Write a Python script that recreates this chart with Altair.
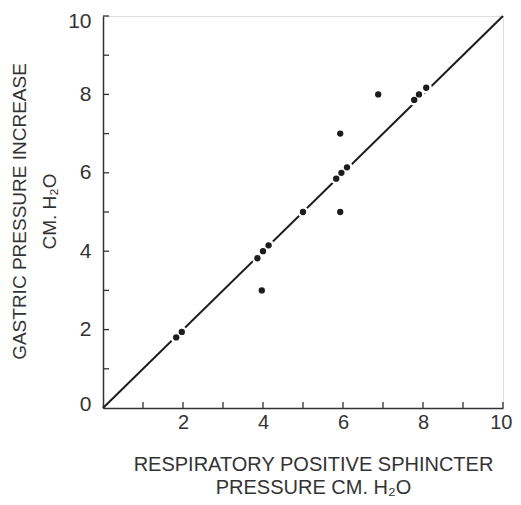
import altair as alt
import pandas as pd

# Data
resp_pressure = [1.83, 1.97, 3.97, 3.86, 4.0, 4.14, 5.0, 5.93, 5.93, 5.83, 5.96, 6.1, 6.88, 7.78, 7.9, 8.08]
gastric_increase = [1.8, 1.94, 3.0, 3.82, 4.0, 4.15, 5.0, 5.0, 7.0, 5.85, 6.0, 6.14, 8.0, 7.86, 8.0, 8.17]

line_x = [0, 10]
line_y = [0, 10]

tick_values = [1, 2, 3, 4, 5, 6, 7, 8, 9, 10]
axis_values = [0, 1, 2, 3, 4, 5, 6, 7, 8, 9, 10]

W, H = 400, 392
FONT = "Liberation Sans"
INK = "#1c1c1c"

pts = pd.DataFrame({"x": resp_pressure, "y": gastric_increase})
ln = pd.DataFrame({"x": line_x, "y": line_y})
tk = pd.DataFrame({"v": tick_values})

xs = alt.Scale(domain=[0, 10], nice=False, zero=True)
ys = alt.Scale(domain=[0, 10], nice=False, zero=True)

x_axis = alt.Axis(
    values=axis_values,
    labelExpr="datum.value % 2 == 0 && datum.value > 0 ? datum.label : ''",
    grid=False, ticks=False, domainColor="#333", domainWidth=1.5,
    labelFont=FONT, labelFontSize=20, labelColor="#333", labelPadding=4,
    labelFlush=True, labelFlushOffset=9,
    title=["RESPIRATORY POSITIVE SPHINCTER", "PRESSURE CM. H\u2082O"],
    titleFont=FONT, titleFontSize=20, titleFontWeight="normal", titleColor="#333",
    titleLineHeight=23, titleBaseline="alphabetic", titleX=210, titleY=62,
    titleAnchor="middle", titleAlign="center",
)
y_axis = alt.Axis(
    values=axis_values,
    labelExpr="datum.value % 2 == 0 ? datum.label : ''",
    grid=False, ticks=False, domainColor="#333", domainWidth=1.5,
    labelFont=FONT, labelFontSize=21, labelColor="#333", labelPadding=12,
    labelFlush=True, labelFlushOffset=6,
    title=["GASTRIC PRESSURE INCREASE", "CM. H\u2082O"],
    titleFont=FONT, titleFontSize=19, titleFontWeight="normal", titleColor="#333",
    titleLineHeight=30, titleBaseline="alphabetic", titleAngle=-90,
    titleX=-78, titleY=195, titleAlign="center",
)

base_line = alt.Chart(ln).mark_line(color=INK, strokeWidth=2).encode(
    x=alt.X("x:Q", scale=xs, axis=x_axis),
    y=alt.Y("y:Q", scale=ys, axis=y_axis),
)

halo = alt.Chart(pts).mark_circle(color="white", opacity=1, size=130).encode(
    x=alt.X("x:Q", scale=xs), y=alt.Y("y:Q", scale=ys)
)
dots = alt.Chart(pts).mark_circle(color=INK, opacity=1, size=40).encode(
    x=alt.X("x:Q", scale=xs), y=alt.Y("y:Q", scale=ys)
)

xticks = alt.Chart(tk).mark_rule(color="#333", strokeWidth=1.3).encode(
    x=alt.X("v:Q", scale=xs), y=alt.value(H), y2=alt.value(H - 6)
)
yticks = alt.Chart(tk).mark_rule(color="#333", strokeWidth=1.3).encode(
    y=alt.Y("v:Q", scale=ys), x=alt.value(0), x2=alt.value(6)
)

chart = alt.layer(base_line, xticks, yticks, halo, dots).properties(
    width=W, height=H,
    autosize=alt.AutoSizeParams(type="none"),
    padding={"left": 95, "top": 8, "right": 10, "bottom": 89},
).configure_view(stroke=None).configure(background="white")

chart.save("out.html", embed_options={"renderer": "svg", "actions": False})
